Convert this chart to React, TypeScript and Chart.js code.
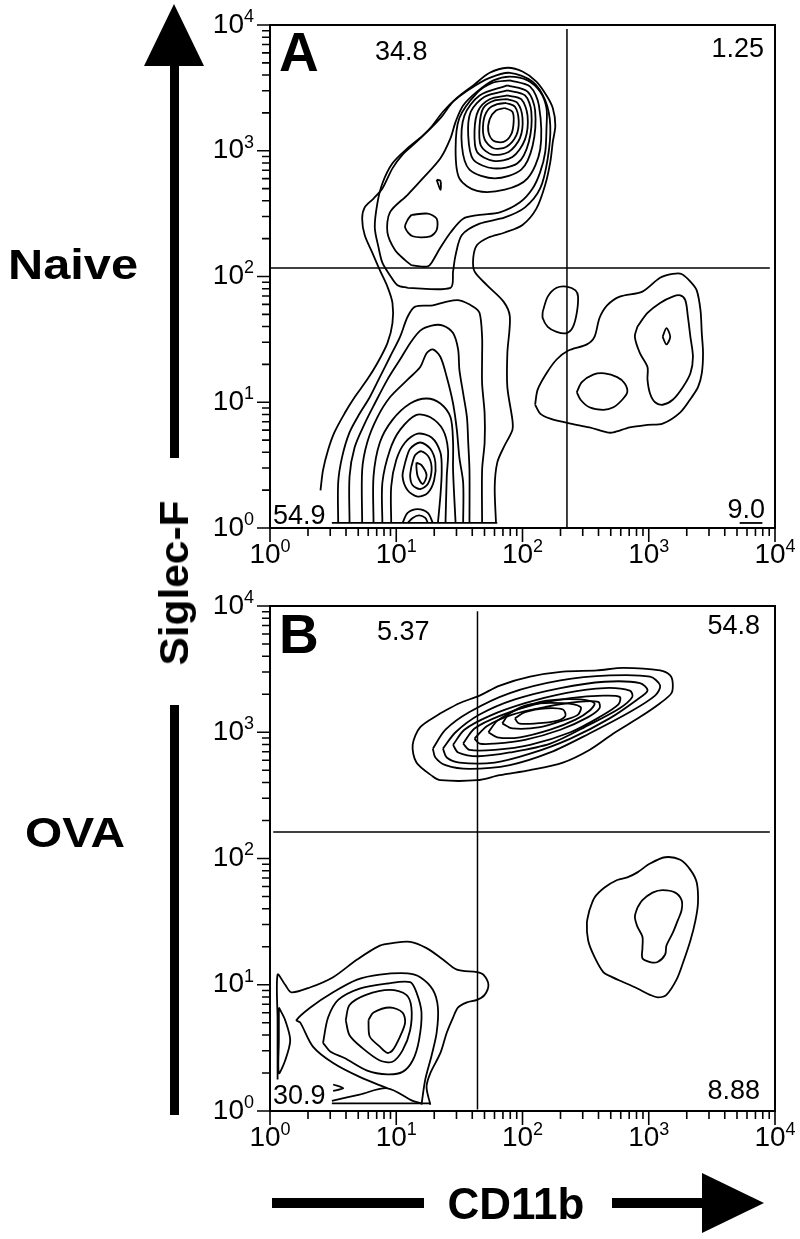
import React, { useEffect, useRef } from "react";
import { Chart, registerables } from "chart.js";

Chart.register(...registerables);

type P = [number, number]; // [log10 CD11b, log10 Siglec-F]

// ---------- axis data ----------
const tickExponents = [0, 1, 2, 3, 4];
const minorMultipliers = [2, 3, 4, 5, 6, 7, 8, 9];

// ---------- gates ----------
const naiveGateCD11b = 225;
const naiveGateSiglecF = 117;
const naiveHGateSpan = [1, 9100];
const naiveVGateSpan = [1.02, 9300];
const ovaGateCD11b = 44;
const ovaGateSiglecF = 162;
const ovaHGateSpan = [1.06, 9100];
const ovaVGateSpan = [1.03, 9100];

// quadrant percentages: upper-left, upper-right, lower-left, lower-right
const naiveQuadrants = ["34.8", "1.25", "54.9", "9.0"];
const ovaQuadrants = ["5.37", "54.8", "30.9", "8.88"];
const panelLetters = ["A", "B"];

// ---------- Naive contours (log10 units) ----------
const naiveOuter: P[] = [[0.40,0.30],[0.42,0.46],[0.46,0.62],[0.51,0.76],[0.59,0.91],[0.67,1.04],[0.77,1.18],[0.85,1.31],[0.93,1.47],[0.97,1.63],[0.97,1.79],[0.93,1.92],[0.87,2.05],[0.81,2.19],[0.75,2.33],[0.73,2.46],[0.75,2.55],[0.82,2.62],[0.89,2.70],[0.97,2.86],[1.05,2.97],[1.16,3.07],[1.27,3.18],[1.37,3.31],[1.48,3.42],[1.61,3.52],[1.74,3.62],[1.88,3.66],[2.00,3.63],[2.11,3.55],[2.19,3.44],[2.24,3.34],[2.26,3.20],[2.24,3.07],[2.22,2.91],[2.18,2.73],[2.11,2.54],[2.00,2.41],[1.86,2.35],[1.73,2.31],[1.64,2.25],[1.61,2.15],[1.62,2.04],[1.72,1.93],[1.85,1.80],[1.90,1.68],[1.88,1.39],[1.88,1.12],[1.92,0.86],[1.92,0.78],[1.85,0.64],[1.80,0.52],[1.78,0.33],[1.79,0.04]];
const naiveEosC2: P[] = [[1.09,1.91],[1.43,1.91],[1.45,2.04],[1.47,2.17],[1.52,2.33],[1.66,2.42],[1.86,2.47],[2.02,2.55],[2.14,2.70],[2.20,2.94],[2.22,3.20],[2.18,3.40],[2.08,3.55],[1.90,3.62],[1.74,3.58],[1.58,3.49],[1.45,3.39],[1.35,3.26],[1.21,3.12],[1.09,3.02],[0.97,2.90],[0.89,2.74],[0.85,2.58],[0.83,2.39],[0.86,2.23],[0.89,2.11],[0.95,2.01],[1.01,1.93]];
const naiveEosC3: P[] = [[1.12,2.09],[1.19,2.08],[1.25,2.08],[1.28,2.11],[1.35,2.23],[1.43,2.35],[1.53,2.46],[1.66,2.49],[1.82,2.51],[1.98,2.59],[2.08,2.70],[2.14,2.83],[2.18,2.99],[2.19,3.18],[2.19,3.34],[2.14,3.47],[2.04,3.56],[1.90,3.59],[1.77,3.56],[1.64,3.47],[1.53,3.36],[1.47,3.23],[1.43,3.10],[1.35,2.94],[1.21,2.78],[1.09,2.65],[0.95,2.51],[0.93,2.35],[0.99,2.21],[1.07,2.13]];
const naiveEosR7: P[] = [[1.90,3.56],[2.06,3.51],[2.13,3.36],[2.14,3.01],[2.04,2.78],[1.86,2.69],[1.64,2.68],[1.50,2.78],[1.47,3.01],[1.50,3.26],[1.64,3.46],[1.76,3.54]];
const naiveEosR6: P[] = [[1.88,3.52],[2.04,3.47],[2.10,3.32],[2.08,3.04],[1.99,2.85],[1.78,2.78],[1.58,2.85],[1.52,3.04],[1.54,3.28],[1.66,3.44]];
const naiveEosR5: P[] = [[1.88,3.48],[2.02,3.44],[2.07,3.31],[2.05,3.07],[1.96,2.90],[1.77,2.86],[1.61,2.93],[1.57,3.12],[1.59,3.31],[1.70,3.43]];
const naiveEosR4: P[] = [[1.88,3.44],[1.99,3.41],[2.04,3.28],[2.02,3.09],[1.92,2.95],[1.77,2.92],[1.64,2.99],[1.62,3.16],[1.65,3.32],[1.74,3.41]];
const naiveEosR3: P[] = [[1.88,3.41],[1.96,3.38],[2.00,3.26],[1.98,3.10],[1.89,2.99],[1.76,2.97],[1.67,3.04],[1.66,3.20],[1.69,3.34],[1.78,3.40]];
const naiveEosR2: P[] = [[1.87,3.38],[1.94,3.35],[1.97,3.24],[1.95,3.12],[1.87,3.03],[1.77,3.02],[1.70,3.09],[1.69,3.23],[1.73,3.33],[1.80,3.37]];
const naiveEosR1: P[] = [[1.86,3.34],[1.92,3.31],[1.93,3.23],[1.91,3.13],[1.85,3.07],[1.77,3.08],[1.73,3.15],[1.74,3.25],[1.79,3.32]];
const naiveEosIsland: P[] = [[1.12,2.49],[1.25,2.50],[1.32,2.46],[1.32,2.37],[1.27,2.32],[1.13,2.32],[1.07,2.39],[1.09,2.45]];
const naiveEosSpeck: P[] = [[1.32,2.77],[1.35,2.76],[1.35,2.69]];

const naiveLowL1: P[] = [[0.54,0.04],[0.54,0.36],[0.57,0.56],[0.63,0.76],[0.71,0.91],[0.79,1.04],[0.87,1.20],[0.95,1.36],[1.03,1.52],[1.09,1.68],[1.15,1.76],[1.29,1.77],[1.40,1.80],[1.50,1.81],[1.61,1.76],[1.66,1.71],[1.68,1.52],[1.68,1.36],[1.68,1.15],[1.70,0.91],[1.70,0.68],[1.68,0.46],[1.68,0.04]];
const naiveLowL2: P[] = [[0.63,0.04],[0.63,0.41],[0.67,0.64],[0.75,0.83],[0.83,0.99],[0.93,1.18],[1.03,1.34],[1.11,1.47],[1.19,1.57],[1.28,1.61],[1.37,1.61],[1.45,1.55],[1.49,1.42],[1.50,1.26],[1.53,1.07],[1.56,0.88],[1.57,0.68],[1.58,0.46],[1.58,0.04]];
const naiveLowL3: P[] = [[0.73,0.04],[0.73,0.46],[0.77,0.68],[0.85,0.88],[0.95,1.04],[1.09,1.18],[1.19,1.28],[1.24,1.39],[1.29,1.42],[1.35,1.36],[1.40,1.20],[1.45,0.99],[1.48,0.78],[1.50,0.56],[1.53,0.36],[1.53,0.04]];
const naiveLowL4: P[] = [[0.82,0.04],[0.82,0.41],[0.87,0.68],[0.97,0.86],[1.11,0.99],[1.24,1.03],[1.35,0.99],[1.43,0.88],[1.45,0.68],[1.45,0.46],[1.47,0.04]];
const naiveLowL5: P[] = [[0.89,0.04],[0.89,0.36],[0.95,0.62],[1.03,0.78],[1.16,0.90],[1.27,0.88],[1.37,0.78],[1.41,0.62],[1.40,0.41],[1.39,0.04]];
const naiveLowL6: P[] = [[0.96,0.04],[0.96,0.33],[1.00,0.54],[1.07,0.68],[1.17,0.75],[1.28,0.72],[1.35,0.60],[1.36,0.45],[1.35,0.26],[1.33,0.04]];
const naiveLowL7: P[] = [[1.07,0.52],[1.11,0.63],[1.19,0.68],[1.27,0.63],[1.31,0.52],[1.30,0.38],[1.25,0.28],[1.17,0.25],[1.09,0.30],[1.05,0.41]];
const naiveLowL8: P[] = [[1.12,0.49],[1.15,0.58],[1.20,0.61],[1.26,0.56],[1.28,0.46],[1.25,0.35],[1.19,0.31],[1.13,0.34],[1.11,0.41]];
const naiveLowPeak: P[] = [[1.16,0.52],[1.20,0.50],[1.24,0.42],[1.21,0.35],[1.17,0.41],[1.16,0.48]];
const naiveLowBump1: P[] = [[1.05,0.04],[1.09,0.12],[1.17,0.15],[1.25,0.12],[1.29,0.04]];
const naiveLowBump2: P[] = [[1.09,0.04],[1.13,0.08],[1.18,0.10],[1.23,0.08],[1.25,0.04]];
const naiveBaseline: P[] = [[0.49,0.04],[1.80,0.04]];
const naiveCornerEdge: P[] = [[3.72,0.04],[3.90,0.04]];

const naiveMonoIsland: P[] = [[2.16,1.72],[2.20,1.84],[2.27,1.91],[2.35,1.92],[2.42,1.89],[2.44,1.84],[2.43,1.71],[2.40,1.60],[2.35,1.55],[2.27,1.56],[2.20,1.60],[2.16,1.67]];
const naiveMonoOuter: P[] = [[2.10,0.98],[2.12,1.10],[2.19,1.23],[2.27,1.34],[2.36,1.41],[2.51,1.46],[2.57,1.52],[2.61,1.67],[2.67,1.77],[2.77,1.84],[2.95,1.88],[3.09,1.99],[3.19,2.02],[3.26,2.02],[3.33,1.96],[3.38,1.89],[3.41,1.73],[3.42,1.55],[3.43,1.39],[3.42,1.23],[3.39,1.12],[3.34,1.04],[3.25,0.92],[3.11,0.83],[2.99,0.82],[2.85,0.80],[2.72,0.76],[2.67,0.76],[2.53,0.80],[2.38,0.83],[2.22,0.87],[2.14,0.91]];
const naiveMonoInner: P[] = [[2.91,1.60],[2.99,1.71],[3.09,1.79],[3.19,1.84],[3.25,1.85],[3.29,1.81],[3.31,1.68],[3.33,1.52],[3.35,1.36],[3.33,1.23],[3.27,1.12],[3.19,1.02],[3.11,0.98],[3.05,1.00],[3.01,1.07],[2.99,1.18],[2.99,1.28],[2.93,1.39],[2.89,1.52]];
const naiveMonoPeak: P[] = [[3.11,1.52],[3.14,1.59],[3.17,1.52],[3.14,1.46]];
const naiveMonoIsland2: P[] = [[2.43,1.08],[2.47,1.16],[2.56,1.22],[2.65,1.23],[2.75,1.20],[2.81,1.15],[2.83,1.08],[2.79,1.02],[2.72,0.96],[2.64,0.94],[2.53,0.96],[2.46,1.02]];

// ---------- OVA contours (log10 units) ----------
const ovaEos1: P[] = [[1.35,3.15],[1.50,3.23],[1.66,3.29],[1.82,3.37],[2.06,3.44],[2.32,3.48],[2.59,3.49],[2.80,3.51],[3.09,3.49],[3.17,3.45],[3.19,3.39],[3.18,3.31],[3.09,3.23],[2.93,3.12],[2.72,2.99],[2.53,2.86],[2.32,2.76],[2.06,2.70],[1.82,2.66],[1.64,2.62],[1.35,2.62],[1.29,2.65],[1.16,2.76],[1.13,2.90],[1.19,3.04]];
const ovaEos2: P[] = [[1.29,2.87],[1.39,3.02],[1.58,3.16],[1.90,3.31],[2.30,3.41],[2.69,3.45],[3.01,3.44],[3.09,3.37],[3.05,3.29],[2.85,3.16],[2.53,2.99],[2.22,2.84],[1.90,2.74],[1.58,2.71],[1.39,2.74],[1.31,2.80]];
const ovaEos3: P[] = [[1.37,2.87],[1.47,3.00],[1.66,3.14],[1.94,3.26],[2.30,3.35],[2.65,3.40],[2.93,3.39],[2.99,3.33],[2.91,3.26],[2.69,3.11],[2.38,2.95],[2.06,2.83],[1.78,2.76],[1.50,2.76],[1.40,2.80]];
const ovaEos4: P[] = [[1.45,2.90],[1.54,3.02],[1.74,3.13],[2.02,3.23],[2.34,3.31],[2.65,3.35],[2.85,3.33],[2.87,3.28],[2.77,3.19],[2.53,3.06],[2.22,2.91],[1.90,2.84],[1.65,2.81],[1.49,2.84]];
const ovaEos5: P[] = [[1.53,2.91],[1.62,3.03],[1.82,3.13],[2.10,3.22],[2.38,3.27],[2.64,3.29],[2.77,3.28],[2.76,3.22],[2.61,3.12],[2.38,3.00],[2.06,2.90],[1.78,2.86],[1.58,2.86]];
const ovaEos6: P[] = [[1.62,2.95],[1.72,3.05],[1.92,3.14],[2.18,3.20],[2.44,3.24],[2.60,3.24],[2.61,3.19],[2.52,3.12],[2.30,3.02],[2.02,2.94],[1.78,2.91],[1.66,2.91]];
const ovaEos7: P[] = [[1.73,3.00],[1.80,3.09],[1.96,3.18],[2.19,3.25],[2.46,3.26],[2.57,3.23],[2.53,3.17],[2.42,3.10],[2.22,3.02],[1.98,2.96],[1.80,2.96]];
const ovaEos8: P[] = [[1.84,3.07],[1.90,3.15],[2.06,3.22],[2.32,3.23],[2.46,3.20],[2.44,3.14],[2.34,3.10],[2.14,3.04],[1.92,3.03]];
const ovaEos9: P[] = [[1.94,3.11],[2.02,3.16],[2.19,3.19],[2.32,3.18],[2.34,3.13],[2.27,3.09],[2.11,3.07],[1.97,3.07]];

const ovaMonoOuter: P[] = [[2.53,1.59],[2.57,1.69],[2.65,1.77],[2.75,1.83],[2.83,1.85],[2.91,1.89],[3.01,1.96],[3.13,2.01],[3.25,1.99],[3.33,1.91],[3.38,1.81],[3.39,1.65],[3.37,1.51],[3.33,1.35],[3.27,1.17],[3.22,1.04],[3.14,0.92],[3.07,0.90],[3.01,0.92],[2.91,0.97],[2.80,1.02],[2.71,1.06],[2.64,1.10],[2.57,1.22],[2.52,1.35],[2.51,1.49]];
const ovaMonoInner: P[] = [[2.91,1.61],[2.95,1.67],[3.03,1.73],[3.11,1.75],[3.21,1.73],[3.26,1.67],[3.26,1.59],[3.23,1.51],[3.19,1.41],[3.14,1.31],[3.13,1.24],[3.07,1.18],[3.01,1.18],[2.95,1.21],[2.95,1.29],[2.95,1.38],[2.91,1.46],[2.89,1.54]];

const ovaLowOuter: P[] = [[1.27,0.05],[1.24,0.19],[1.27,0.30],[1.35,0.46],[1.40,0.62],[1.45,0.74],[1.49,0.82],[1.56,0.86],[1.64,0.88],[1.70,0.92],[1.73,1.00],[1.69,1.08],[1.64,1.10],[1.48,1.12],[1.37,1.20],[1.24,1.29],[1.11,1.34],[0.97,1.33],[0.87,1.31],[0.69,1.20],[0.50,1.06],[0.32,0.98],[0.17,0.94],[0.12,1.00],[0.06,1.08],[0.06,0.72],[0.06,0.25]];
const ovaLowL2: P[] = [[0.93,0.18],[0.71,0.27],[0.50,0.38],[0.34,0.51],[0.24,0.70],[0.21,0.72],[0.32,0.82],[0.50,0.94],[0.69,1.04],[0.87,1.08],[1.09,1.09],[1.19,1.06],[1.29,0.96],[1.33,0.82],[1.32,0.62],[1.28,0.44],[1.23,0.25],[1.20,0.05]];
const ovaLowL3: P[] = [[0.42,0.54],[0.46,0.74],[0.54,0.88],[0.71,0.97],[0.93,1.01],[1.11,1.02],[1.16,0.94],[1.20,0.78],[1.18,0.56],[1.13,0.40],[1.05,0.31],[0.93,0.29],[0.77,0.32],[0.59,0.42],[0.48,0.47]];
const ovaLowL4: P[] = [[0.60,0.72],[0.63,0.84],[0.76,0.92],[0.95,0.96],[1.08,0.92],[1.12,0.82],[1.11,0.64],[1.05,0.48],[0.97,0.39],[0.87,0.40],[0.73,0.50],[0.63,0.60]];
const ovaLowL5: P[] = [[0.78,0.72],[0.82,0.78],[0.95,0.82],[1.05,0.78],[1.07,0.70],[1.03,0.59],[0.97,0.48],[0.93,0.46],[0.87,0.51],[0.79,0.59]];
const ovaLowEar: P[] = [[0.07,0.82],[0.12,0.72],[0.16,0.56],[0.12,0.40],[0.07,0.30],[0.07,0.56]];
const ovaLowBase1: P[] = [[0.49,0.06],[1.27,0.06]];
const ovaLowBase2: P[] = [[0.49,0.08],[0.71,0.13],[0.93,0.18],[1.13,0.08],[1.20,0.06]];
const ovaLowNotch: P[] = [[0.50,0.21],[0.58,0.18],[0.50,0.16]];

const naiveClosed = [naiveEosC2, naiveEosC3, naiveEosR7, naiveEosR6, naiveEosR5, naiveEosR4, naiveEosR3, naiveEosR2, naiveEosR1, naiveEosIsland, naiveEosSpeck, naiveLowL7, naiveLowL8, naiveLowPeak, naiveMonoIsland, naiveMonoOuter, naiveMonoInner, naiveMonoPeak, naiveMonoIsland2];
const naiveOpen = [naiveOuter, naiveLowL1, naiveLowL2, naiveLowL3, naiveLowL4, naiveLowL5, naiveLowL6, naiveLowBump1, naiveLowBump2, naiveBaseline, naiveCornerEdge];
const ovaClosed = [ovaEos1, ovaEos2, ovaEos3, ovaEos4, ovaEos5, ovaEos6, ovaEos7, ovaEos8, ovaEos9, ovaMonoOuter, ovaMonoInner, ovaLowL3, ovaLowL4, ovaLowL5, ovaLowEar];
const ovaOpen = [ovaLowOuter, ovaLowL2, ovaLowBase1, ovaLowBase2, ovaLowNotch];

// ---------- rendering ----------
const FONT = '"Liberation Sans", Arial, Helvetica, sans-serif';
const BASE_PX = 28;
const SUP_PX = 18;

function toXY(pts: P[], close: boolean) {
  const d = pts.map(([a, b]) => ({ x: Math.pow(10, a), y: Math.pow(10, b) }));
  if (close) d.push({ ...d[0] });
  return d;
}

function drawPow(ctx: CanvasRenderingContext2D, x: number, cy: number, e: number) {
  ctx.textAlign = "left";
  ctx.textBaseline = "middle";
  ctx.font = `${BASE_PX}px ${FONT}`;
  ctx.fillText("10", x, cy);
  const wb = ctx.measureText("10").width;
  ctx.font = `${SUP_PX}px ${FONT}`;
  ctx.fillText(String(e), x + wb, cy - 8);
}

const decorPlugin = {
  id: "decor",
  afterDatasetsDraw(chart: any, _args: any, opts: any) {
    const { ctx, chartArea: a } = chart;
    const xs = chart.scales.x;
    const ys = chart.scales.y;
    ctx.save();
    for (const lb of opts.labels || []) {
      ctx.font = lb.font;
      ctx.textAlign = lb.align;
      ctx.textBaseline = "middle";
      if (lb.bg) {
        const w = ctx.measureText(lb.text).width;
        const x0 = lb.align === "right" ? lb.x - w : lb.x;
        ctx.fillStyle = "#fff";
        ctx.fillRect(x0 - 2, lb.y - 13, w + 4, 26);
      }
      ctx.fillStyle = "#000";
      ctx.fillText(lb.text, lb.x, lb.y);
    }
    ctx.strokeStyle = "#000";
    ctx.lineWidth = 2;
    ctx.strokeRect(a.left, a.top, a.right - a.left, a.bottom - a.top);
    ctx.lineWidth = 1.6;
    ctx.beginPath();
    for (const e of tickExponents) {
      const vals = [Math.pow(10, e), ...(e < 4 ? minorMultipliers.map((m) => m * Math.pow(10, e)) : [])];
      vals.forEach((v, i) => {
        const px = xs.getPixelForValue(v);
        ctx.moveTo(px, a.bottom);
        ctx.lineTo(px, a.bottom + (i === 0 ? 14 : 8));
        const py = ys.getPixelForValue(v);
        ctx.moveTo(a.left, py);
        ctx.lineTo(a.left - (i === 0 ? 13 : 8), py);
      });
    }
    ctx.stroke();
    ctx.fillStyle = "#000";
    for (const e of tickExponents) {
      ctx.font = `${BASE_PX}px ${FONT}`;
      const wb = ctx.measureText("10").width;
      ctx.font = `${SUP_PX}px ${FONT}`;
      const ws = ctx.measureText(String(e)).width;
      const total = wb + ws;
      const v = Math.pow(10, e);
      const px = xs.getPixelForValue(v);
      drawPow(ctx, px - total / 2, a.bottom + 27, e);
      const py = ys.getPixelForValue(v);
      drawPow(ctx, a.left - 16 - total, py, e);
    }
    ctx.restore();
  },
};

function buildConfig(
  closed: P[][],
  open: P[][],
  gateX: number,
  gateY: number,
  hSpan: number[],
  vSpan: number[],
  padding: any,
  labels: any[]
): any {
  const datasets: any[] = [];
  closed.forEach((c) => datasets.push({ data: toXY(c, true), showLine: true, borderColor: "#000", borderWidth: 1.8, pointRadius: 0, tension: 0.3, fill: false }));
  open.forEach((c) => datasets.push({ data: toXY(c, false), showLine: true, borderColor: "#000", borderWidth: 1.8, pointRadius: 0, tension: 0.3, fill: false }));
  datasets.push({ data: [{ x: hSpan[0], y: gateY }, { x: hSpan[1], y: gateY }], showLine: true, borderColor: "#000", borderWidth: 1.5, pointRadius: 0, tension: 0 });
  datasets.push({ data: [{ x: gateX, y: vSpan[0] }, { x: gateX, y: vSpan[1] }], showLine: true, borderColor: "#000", borderWidth: 1.5, pointRadius: 0, tension: 0 });
  return {
    type: "scatter",
    data: { datasets },
    options: {
      animation: false,
      responsive: false,
      devicePixelRatio: 1,
      events: [],
      layout: { padding },
      plugins: { legend: { display: false }, tooltip: { enabled: false }, decor: { labels } },
      scales: {
        x: { type: "logarithmic", min: 1, max: 10000, display: false },
        y: { type: "logarithmic", min: 1, max: 10000, display: false },
      },
    },
    plugins: [decorPlugin],
  };
}

export default function App() {
  const refA = useRef<HTMLCanvasElement>(null);
  const refB = useRef<HTMLCanvasElement>(null);

  useEffect(() => {
    document.body.style.margin = "0";
    const num = `27px ${FONT}`;
    const big = `bold 55px ${FONT}`;
    const labelsA = [
      { text: panelLetters[0], x: 279, y: 56, align: "left", font: big },
      { text: naiveQuadrants[0], x: 375, y: 53, align: "left", font: num },
      { text: naiveQuadrants[1], x: 764, y: 50, align: "right", font: num },
      { text: naiveQuadrants[2], x: 273, y: 517, align: "left", font: num, bg: true },
      { text: naiveQuadrants[3], x: 765, y: 511, align: "right", font: num },
    ];
    const labelsB = [
      { text: panelLetters[1], x: 279, y: 58, align: "left", font: big },
      { text: ovaQuadrants[0], x: 377, y: 53, align: "left", font: num },
      { text: ovaQuadrants[1], x: 760, y: 47, align: "right", font: num },
      { text: ovaQuadrants[2], x: 273, y: 517, align: "left", font: num, bg: true },
      { text: ovaQuadrants[3], x: 760, y: 512, align: "right", font: num },
    ];
    const ca = new Chart(
      refA.current as HTMLCanvasElement,
      buildConfig(naiveClosed, naiveOpen, naiveGateCD11b, naiveGateSiglecF, naiveHGateSpan, naiveVGateSpan, { left: 270, right: 25, top: 25, bottom: 52 }, labelsA)
    );
    const cb = new Chart(
      refB.current as HTMLCanvasElement,
      buildConfig(ovaClosed, ovaOpen, ovaGateCD11b, ovaGateSiglecF, ovaHGateSpan, ovaVGateSpan, { left: 270, right: 25, top: 26, bottom: 128 }, labelsB)
    );
    return () => {
      ca.destroy();
      cb.destroy();
    };
  }, []);

  const bar = (left: number, top: number, width: number, height: number) => (
    <div style={{ position: "absolute", left, top, width, height, background: "#000" }} />
  );

  return (
    <div style={{ position: "relative", width: 800, height: 1239, background: "#fff", overflow: "hidden", fontFamily: FONT }}>
      <canvas ref={refA} width={800} height={580} style={{ position: "absolute", left: 0, top: 0, width: 800, height: 580 }} />
      <canvas ref={refB} width={800} height={659} style={{ position: "absolute", left: 0, top: 580, width: 800, height: 659 }} />

      <div style={{ position: "absolute", left: 144, top: 4, width: 0, height: 0, borderLeft: "30px solid transparent", borderRight: "30px solid transparent", borderBottom: "62px solid #000" }} />
      {bar(170, 64, 9, 394)}
      {bar(170, 705, 9, 410)}
      <div style={{ position: "absolute", left: 174, top: 583, transform: "translate(-50%, -50%) rotate(-90deg) scaleX(1.06)", fontWeight: "bold", fontSize: 40, lineHeight: "40px", whiteSpace: "nowrap" }}>Siglec-F</div>
      <div style={{ position: "absolute", left: 73, top: 265, transform: "translate(-50%, -50%) scaleX(1.16)", fontWeight: "bold", fontSize: 42, lineHeight: "42px", whiteSpace: "nowrap" }}>Naive</div>
      <div style={{ position: "absolute", left: 75, top: 833, transform: "translate(-50%, -50%) scaleX(1.14)", fontWeight: "bold", fontSize: 42, lineHeight: "42px", whiteSpace: "nowrap" }}>OVA</div>

      {bar(272, 1198, 152, 10)}
      <div style={{ position: "absolute", left: 516, top: 1204, transform: "translate(-50%, -50%)", fontWeight: "bold", fontSize: 44, lineHeight: "44px", whiteSpace: "nowrap" }}>CD11b</div>
      {bar(612, 1198, 93, 10)}
      <div style={{ position: "absolute", left: 702, top: 1173, width: 0, height: 0, borderTop: "30px solid transparent", borderBottom: "30px solid transparent", borderLeft: "62px solid #000" }} />
    </div>
  );
}
